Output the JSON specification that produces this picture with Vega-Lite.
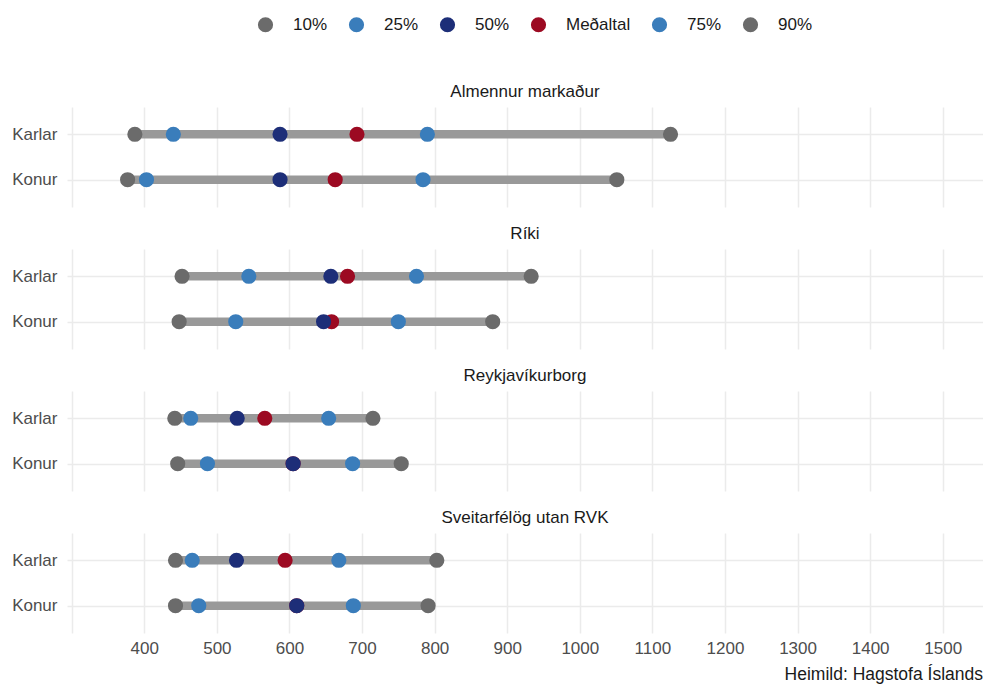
{
  "$schema": "https://vega.github.io/schema/vega-lite/v6.json",
  "padding": {"left": 5, "top": 16, "right": 0, "bottom": 2},
  "data": {
    "values": [
      {"panel": "Almennur markaður", "kyn": "Karlar", "stat": "10%", "value": 387},
      {"panel": "Almennur markaður", "kyn": "Karlar", "stat": "25%", "value": 440},
      {"panel": "Almennur markaður", "kyn": "Karlar", "stat": "50%", "value": 587},
      {"panel": "Almennur markaður", "kyn": "Karlar", "stat": "Meðaltal", "value": 693},
      {"panel": "Almennur markaður", "kyn": "Karlar", "stat": "75%", "value": 790},
      {"panel": "Almennur markaður", "kyn": "Karlar", "stat": "90%", "value": 1125},
      {"panel": "Almennur markaður", "kyn": "Konur", "stat": "10%", "value": 377},
      {"panel": "Almennur markaður", "kyn": "Konur", "stat": "25%", "value": 403},
      {"panel": "Almennur markaður", "kyn": "Konur", "stat": "50%", "value": 587},
      {"panel": "Almennur markaður", "kyn": "Konur", "stat": "Meðaltal", "value": 663},
      {"panel": "Almennur markaður", "kyn": "Konur", "stat": "75%", "value": 784},
      {"panel": "Almennur markaður", "kyn": "Konur", "stat": "90%", "value": 1051},
      {"panel": "Ríki", "kyn": "Karlar", "stat": "10%", "value": 452},
      {"panel": "Ríki", "kyn": "Karlar", "stat": "25%", "value": 544},
      {"panel": "Ríki", "kyn": "Karlar", "stat": "50%", "value": 657},
      {"panel": "Ríki", "kyn": "Karlar", "stat": "Meðaltal", "value": 680},
      {"panel": "Ríki", "kyn": "Karlar", "stat": "75%", "value": 775},
      {"panel": "Ríki", "kyn": "Karlar", "stat": "90%", "value": 933},
      {"panel": "Ríki", "kyn": "Konur", "stat": "10%", "value": 448},
      {"panel": "Ríki", "kyn": "Konur", "stat": "25%", "value": 526},
      {"panel": "Ríki", "kyn": "Konur", "stat": "Meðaltal", "value": 658},
      {"panel": "Ríki", "kyn": "Konur", "stat": "50%", "value": 647},
      {"panel": "Ríki", "kyn": "Konur", "stat": "75%", "value": 750},
      {"panel": "Ríki", "kyn": "Konur", "stat": "90%", "value": 880},
      {"panel": "Reykjavíkurborg", "kyn": "Karlar", "stat": "10%", "value": 442},
      {"panel": "Reykjavíkurborg", "kyn": "Karlar", "stat": "25%", "value": 464},
      {"panel": "Reykjavíkurborg", "kyn": "Karlar", "stat": "50%", "value": 528},
      {"panel": "Reykjavíkurborg", "kyn": "Karlar", "stat": "Meðaltal", "value": 566},
      {"panel": "Reykjavíkurborg", "kyn": "Karlar", "stat": "75%", "value": 654},
      {"panel": "Reykjavíkurborg", "kyn": "Karlar", "stat": "90%", "value": 715},
      {"panel": "Reykjavíkurborg", "kyn": "Konur", "stat": "10%", "value": 446},
      {"panel": "Reykjavíkurborg", "kyn": "Konur", "stat": "25%", "value": 487},
      {"panel": "Reykjavíkurborg", "kyn": "Konur", "stat": "Meðaltal", "value": 605},
      {"panel": "Reykjavíkurborg", "kyn": "Konur", "stat": "50%", "value": 605},
      {"panel": "Reykjavíkurborg", "kyn": "Konur", "stat": "75%", "value": 687},
      {"panel": "Reykjavíkurborg", "kyn": "Konur", "stat": "90%", "value": 754},
      {"panel": "Sveitarfélög utan RVK", "kyn": "Karlar", "stat": "10%", "value": 443},
      {"panel": "Sveitarfélög utan RVK", "kyn": "Karlar", "stat": "25%", "value": 466},
      {"panel": "Sveitarfélög utan RVK", "kyn": "Karlar", "stat": "50%", "value": 527},
      {"panel": "Sveitarfélög utan RVK", "kyn": "Karlar", "stat": "Meðaltal", "value": 594},
      {"panel": "Sveitarfélög utan RVK", "kyn": "Karlar", "stat": "75%", "value": 668},
      {"panel": "Sveitarfélög utan RVK", "kyn": "Karlar", "stat": "90%", "value": 803},
      {"panel": "Sveitarfélög utan RVK", "kyn": "Konur", "stat": "10%", "value": 443},
      {"panel": "Sveitarfélög utan RVK", "kyn": "Konur", "stat": "25%", "value": 475},
      {"panel": "Sveitarfélög utan RVK", "kyn": "Konur", "stat": "Meðaltal", "value": 610},
      {"panel": "Sveitarfélög utan RVK", "kyn": "Konur", "stat": "50%", "value": 610},
      {"panel": "Sveitarfélög utan RVK", "kyn": "Konur", "stat": "75%", "value": 688},
      {"panel": "Sveitarfélög utan RVK", "kyn": "Konur", "stat": "90%", "value": 791}
    ]
  },
  "facet": {
    "field": "panel",
    "type": "nominal",
    "sort": ["Almennur markaður", "Ríki", "Reykjavíkurborg", "Sveitarfélög utan RVK"],
    "header": {"title": null, "labelFontSize": 17, "labelColor": "#1a1a1a", "labelFont": "Liberation Sans", "labelPadding": 6}
  },
  "columns": 1,
  "spacing": 18,
  "spec": {
    "width": 916,
    "height": 100,
    "layer": [
      {
        "mark": {"type": "rule", "strokeWidth": 8.5, "color": "#999999"},
        "encoding": {
          "x": {
            "aggregate": "min", "field": "value", "type": "quantitative",
            "scale": {"domain": [293.5, 1555.5], "nice": false, "zero": false},
            "axis": {
              "title": null, "format": "d",
              "values": [300, 350, 400, 450, 500, 550, 600, 650, 700, 750, 800, 850, 900, 950, 1000, 1050, 1100, 1150, 1200, 1250, 1300, 1350, 1400, 1450, 1500, 1550],
              "labelExpr": "datum.value >= 400 && datum.value <= 1500 && datum.value % 100 == 0 ? datum.label : ''",
              "labelFontSize": 17, "labelColor": "#4d4d4d", "labelFont": "Liberation Sans",
              "ticks": false, "domain": false, "labelPadding": 7,
              "gridColor": "#ebebeb", "gridWidth": 1.5
            }
          },
          "x2": {"aggregate": "max", "field": "value"},
          "y": {
            "field": "kyn", "type": "nominal", "sort": ["Karlar", "Konur"],
            "scale": {"type": "point", "padding": 0.6},
            "axis": {
              "title": null, "labelFontSize": 17, "labelColor": "#4d4d4d", "labelFont": "Liberation Sans",
              "ticks": false, "domain": false, "labelPadding": 10, "minExtent": 62, "maxExtent": 62,
              "grid": true, "gridColor": "#ebebeb", "gridWidth": 1.5
            }
          }
        }
      },
      {
        "mark": {"type": "circle", "size": 230, "opacity": 1},
        "encoding": {
          "x": {"field": "value", "type": "quantitative"},
          "y": {"field": "kyn", "type": "nominal", "sort": ["Karlar", "Konur"]},
          "color": {
            "field": "stat", "type": "nominal",
            "scale": {
              "domain": ["10%", "25%", "50%", "Meðaltal", "75%", "90%"],
              "range": ["#6b6b6b", "#3a7dbb", "#1d2e78", "#9c0a22", "#3a7dbb", "#6b6b6b"]
            },
            "legend": {
              "title": null, "orient": "none", "direction": "horizontal",
              "legendX": 190, "legendY": -91,
              "symbolType": "circle", "symbolSize": 230, "symbolOpacity": 1,
              "labelFontSize": 17, "labelColor": "#1a1a1a", "labelFont": "Liberation Sans",
              "labelOffset": 19, "columnPadding": 20
            }
          }
        }
      }
    ]
  },
  "title": {
    "text": "Heimild: Hagstofa Íslands", "orient": "bottom", "anchor": "end",
    "fontSize": 17.5, "fontWeight": "normal", "font": "Liberation Sans", "color": "#1a1a1a", "offset": 10
  },
  "config": {"view": {"stroke": null}, "font": "Liberation Sans"}
}
